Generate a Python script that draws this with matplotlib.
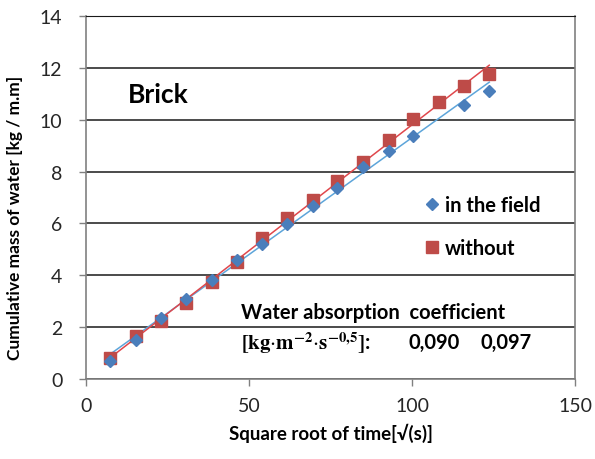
import matplotlib
matplotlib.use("Agg")
import matplotlib.pyplot as plt
import numpy as np

# Data
x_field = [7.4, 15.3, 22.9, 30.7, 38.7, 46.2, 54.0, 61.7, 69.5, 77.1, 84.9, 92.9, 100.4, 115.9, 123.7]
y_field = [0.68, 1.5, 2.35, 3.1, 3.8, 4.6, 5.22, 5.98, 6.66, 7.36, 8.16, 8.78, 9.38, 10.57, 11.1]
x_without = [7.4, 15.3, 22.9, 30.7, 38.7, 46.2, 54.0, 61.7, 69.5, 77.1, 84.9, 92.9, 100.4, 108.2, 115.9, 123.7]
y_without = [0.8, 1.67, 2.24, 2.93, 3.73, 4.52, 5.45, 6.2, 6.9, 7.64, 8.37, 9.2, 10.03, 10.68, 11.3, 11.76]
series_names = ["in the field", "without"]
coef_values = ["0,090", "0,097"]
x_ticks = [0, 50, 100, 150]
y_ticks = [0, 2, 4, 6, 8, 10, 12, 14]

plt.rcParams['font.family'] = ['Lato', 'DejaVu Sans']
plt.rcParams['mathtext.fontset'] = 'stix'

fig = plt.figure(figsize=(5.95, 4.6), dpi=100)
ax = fig.add_axes([86/595, 1-380/460, 489/595, 363/460])

blue_m = '#4A7EBB'
red_m = '#BE4B48'
blue_l = '#5DA5DA'
red_l = '#E0474C'

# trend lines
for xs, ys, c in [(x_field, y_field, blue_l), (x_without, y_without, red_l)]:
    xs = np.array(xs); ys = np.array(ys)
    p = np.polyfit(xs, ys, 1)
    xx = np.array([xs.min(), xs.max()])
    ax.plot(xx, np.polyval(p, xx), color=c, lw=1.1, zorder=3)

ax.plot(x_field, y_field, linestyle='none', marker='D', ms=6, color=blue_m,
        label=series_names[0], zorder=4)
ax.plot(x_without, y_without, linestyle='none', marker='s', ms=8.5, color=red_m,
        label=series_names[1], zorder=3.5)

ax.set_xlim(0, 150)
ax.set_ylim(0, 14)
ax.set_xticks(x_ticks)
ax.set_yticks(y_ticks)
ax.yaxis.grid(True, color='#1a1a1a', lw=1.1)
ax.set_axisbelow(True)
for s in ['left', 'right', 'bottom']:
    ax.spines[s].set_color('#808080')
    ax.spines[s].set_linewidth(1.2)
ax.spines['top'].set_color('#1a1a1a')
ax.tick_params(axis='both', direction='out', length=5, width=1, color='#808080',
               labelsize=14, labelcolor='#262626')
ax.tick_params(axis='x', pad=8)
ax.tick_params(axis='y', pad=12)

ax.set_xlabel("Square root of time[√(s)]", fontsize=13.5, fontweight='bold', labelpad=6)
ax.set_ylabel("Cumulative mass of water [kg / m.m]", fontsize=12.5, fontweight='bold')
ax.yaxis.set_label_coords(-0.128, 0.446)

ax.text(12.9, 11.0, "Brick", fontsize=19, fontweight='bold', va='center', ha='left')

leg = ax.legend(loc='upper left', bbox_to_anchor=((416-86)/489, (380-188)/363),
                frameon=False, fontsize=14.5, handletextpad=0.25, labelspacing=1.15,
                handlelength=0.8, borderaxespad=0)
for t in leg.get_texts():
    t.set_fontweight('bold')

ax.text(47.5, (380-313)/25.93, "Water absorption  coefficient", fontsize=14.5,
        fontweight='bold', va='center', ha='left')
ax.text(47.5, (380-343)/25.93,
        r"$\mathbf{[kg}{\cdot}\mathbf{m}^{\mathbf{-2}}{\cdot}\mathbf{s}^{\mathbf{-0{,}5}}\mathbf{]}$:",
        fontsize=15, fontweight='bold', va='center', ha='left')
ax.text((408-86)/3.26, (380-343)/25.93, coef_values[0], fontsize=14.5, fontweight='bold',
        va='center', ha='left')
ax.text((480-86)/3.26, (380-343)/25.93, coef_values[1], fontsize=14.5, fontweight='bold',
        va='center', ha='left')

fig.savefig("out.png", dpi=100)
